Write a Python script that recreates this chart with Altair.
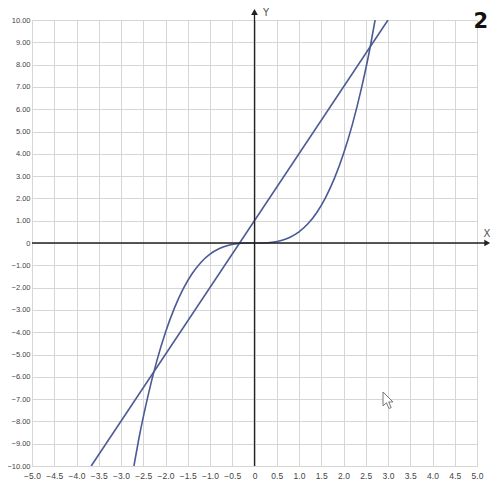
import altair as alt
import pandas as pd

# Straight line (end points)
line_x = [-3.67, 3.0]
line_y = [-10.0, 10.0]

# Curve points
curve_x = [-2.71, -2.6, -2.4, -2.2, -2.0, -1.8, -1.6, -1.4, -1.2, -1.0, -0.8, -0.6, -0.4, -0.2, 0.0,
           0.2, 0.4, 0.6, 0.8, 1.0, 1.2, 1.4, 1.6, 1.8, 2.0, 2.2, 2.4, 2.6, 2.71]
curve_y = [-10.0, -8.79, -6.91, -5.32, -4.0, -2.92, -2.05, -1.37, -0.86, -0.5, -0.26, -0.11, -0.03, 0.0, 0.0,
           0.0, 0.03, 0.11, 0.26, 0.5, 0.86, 1.37, 2.05, 2.92, 4.0, 5.32, 6.91, 8.79, 10.0]

x_ticks = [v / 2 for v in range(-10, 11)]
y_ticks = list(range(-10, 11))

W, H = 445, 446
blue = "#4b5a94"
xs = alt.Scale(domain=[-5, 5], nice=False, zero=False)
ys = alt.Scale(domain=[-10, 10], nice=False, zero=False)

line_df = pd.DataFrame({"x": line_x, "y": line_y})
curve_df = pd.DataFrame({"x": curve_x, "y": curve_y})

common = dict(grid=True, gridColor="#d6d6d6", domain=False, ticks=False, labelOverlap=False,
              labelFlush=False, labelColor="#444", labelFont="Liberation Sans", title=None)
xaxis = alt.Axis(values=x_ticks, labelExpr="datum.value == 0 ? '0' : format(datum.value, '.1f')",
                 labelPadding=5, labelFontSize=8.5, **common)
yaxis = alt.Axis(values=y_ticks, labelExpr="datum.value == 0 ? '0' : format(datum.value, '.2f')",
                 labelPadding=2, labelFontSize=7.5, **common)

X = lambda: alt.X("x:Q", scale=xs, axis=xaxis)
Y = lambda: alt.Y("y:Q", scale=ys, axis=yaxis)

axes_df = pd.DataFrame({"x": [-5.0, 0.0], "x2": [5.25, 0.0], "y": [0.0, -10.0], "y2": [0.0, 10.4]})
axes_lines = alt.Chart(axes_df).mark_rule(color="#222", strokeWidth=1.3, clip=False).encode(
    x=X(), x2="x2:Q", y=Y(), y2="y2:Q")

arrow_df = pd.DataFrame({"x": [5.23, 0.0], "y": [0.0, 10.36], "shape": ["triangle-right", "triangle-up"]})
arrows = alt.Chart(arrow_df).mark_point(filled=True, color="#222", size=45, opacity=1, clip=False).encode(
    x=X(), y=Y(), shape=alt.Shape("shape:N", scale=None, legend=None))

x_label = alt.Chart(pd.DataFrame({"t": ["X"]})).mark_text(
    color="#555", fontSize=10, font="DejaVu Sans", baseline="alphabetic", clip=False).encode(
    x=alt.value(455), y=alt.value(217), text="t:N")
y_label = alt.Chart(pd.DataFrame({"t": ["Y"]})).mark_text(
    color="#555", fontSize=10, font="DejaVu Sans", baseline="alphabetic", clip=False).encode(
    x=alt.value(234), y=alt.value(-4), text="t:N")

line = alt.Chart(line_df).mark_line(color=blue, strokeWidth=1.6, clip=True).encode(x=X(), y=Y())
curve = alt.Chart(curve_df).mark_line(color=blue, strokeWidth=1.6, interpolate="monotone", clip=True).encode(
    x=X(), y=Y())

num = alt.Chart(pd.DataFrame({"t": ["2"]})).mark_text(
    fontSize=21, fontWeight="bold", color="#111", font="DejaVu Sans", align="right", baseline="alphabetic",
    clip=False).encode(x=alt.value(456), y=alt.value(8), text="t:N")

cursor = alt.Chart(pd.DataFrame({"t": ["c"]})).mark_point(
    shape="M0,0 L0,1.6 L0.4,1.25 L0.7,1.9 L0.95,1.8 L0.65,1.15 L1.15,1.15 Z",
    size=300, filled=True, fill="white", stroke="#777", strokeWidth=1, opacity=1, clip=False).encode(
    x=alt.value(351), y=alt.value(372))

chart = alt.layer(line, curve, axes_lines, arrows, x_label, y_label, num, cursor).properties(
    width=W, height=H, autosize=alt.AutoSizeParams(type="none"),
    padding={"left": 24, "top": 12, "right": 15, "bottom": 14}
).configure_view(stroke=None).configure_axis(labelOverlap=False).configure(background="white")

chart.save("out.html", embed_options={"renderer": "svg", "actions": False})
